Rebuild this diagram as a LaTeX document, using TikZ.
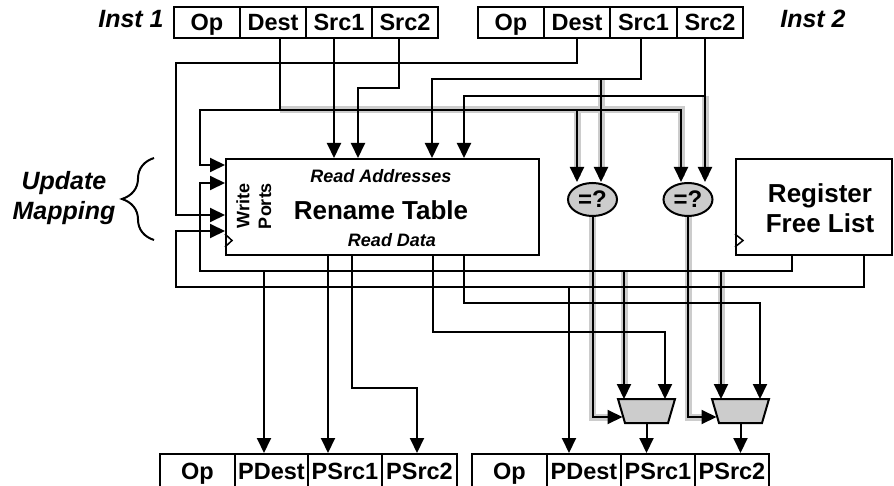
\documentclass[tikz,border=0pt]{standalone}
\usepackage{fontspec}
\setmainfont{Liberation Sans}
\usetikzlibrary{arrows.meta,shapes.geometric,decorations.pathreplacing}
\begin{document}
\begin{tikzpicture}[x=1pt,y=-1pt,
  w/.style={line width=2pt},
  arr/.style={-{Triangle[length=15pt 0 0,width=14pt 0 0]}},
  hl/.style={line width=7pt,draw=gray!40},
  cell/.style={draw,line width=2pt,fill=white,minimum height=31pt,minimum width=66pt,inner sep=0pt,text height=17pt,text depth=0pt,font=\bfseries\fontsize{23.5}{23.5}\selectfont},
  ocell/.style={cell,minimum height=34pt},
  blk/.style={draw,line width=2pt,fill=white,inner sep=0pt},
  cmp/.style={ellipse,draw,line width=2pt,fill=gray!40,minimum width=49pt,minimum height=33pt,inner sep=0pt,font=\bfseries\fontsize{24}{24}\selectfont},
  muxshape/.style={draw,line width=2pt,fill=gray!40,line join=miter},
  lab/.style={font=\bfseries\itshape\fontsize{25}{30}\selectfont,align=center},
  small/.style={font=\bfseries\itshape\fontsize{18}{18}\selectfont},
  big/.style={font=\bfseries\fontsize{26}{30}\selectfont,align=center}]
\useasboundingbox (0,0) rectangle (894,486);

% instruction fields
\node[cell] (i1op) at (207,22.5) {Op};
\node[cell] (i1d)  at (273,22.5) {Dest};
\node[cell] (i1s1) at (339,22.5) {Src1};
\node[cell] (i1s2) at (405,22.5) {Src2};
\node[cell] (i2op) at (511,22.5) {Op};
\node[cell] (i2d)  at (577,22.5) {Dest};
\node[cell,minimum width=67pt] (i2s1) at (643.5,22.5) {Src1};
\node[cell] (i2s2) at (710,22.5) {Src2};
\node[lab] (inst1) at (131,19) {Inst 1};
\node[lab] (inst2) at (813,19) {Inst 2};

% output fields
\node[ocell,minimum width=75pt] (o1op)  at (197.5,471) {Op};
\node[ocell,minimum width=73pt] (o1pd)  at (271.5,471) {PDest};
\node[ocell,minimum width=74pt] (o1ps1) at (345,471) {PSrc1};
\node[ocell,minimum width=75pt] (o1ps2) at (419.5,471) {PSrc2};
\node[ocell,minimum width=75pt] (o2op)  at (509.5,471) {Op};
\node[ocell,minimum width=74pt] (o2pd)  at (584,471) {PDest};
\node[ocell,minimum width=74pt] (o2ps1) at (658,471) {PSrc1};
\node[ocell,minimum width=74pt] (o2ps2) at (732,471) {PSrc2};

% blocks
\node[blk,minimum width=313pt,minimum height=96pt] (rt) at (382.5,207) {};
\node[blk,minimum width=156pt,minimum height=96pt] (fl) at (814,207) {};
\node[cmp] (c1) at (592.5,199.5) {=?};
\node[cmp] (c2) at (688,199.5) {=?};

% muxes (trapezoids) with named anchor points
\coordinate (m1n) at (646.5,399);
\coordinate (m1s) at (646.5,423);
\coordinate (m1w) at (622.5,417);
\coordinate (m2n) at (740.5,399);
\coordinate (m2s) at (740.5,423);
\coordinate (m2w) at (716.5,417);

% highlight shadows
\draw[hl] (280,110) -| (681,176);
\draw[hl] (577,110) -- (577,176);
\draw[hl] (601,79) -- (601,176);
\draw[hl] (705,96) -- (705,176);
\draw[hl] (c1.south) |- (614,417);
\draw[hl] (c2.south) |- (708,417);
\draw[hl] (624,271) -- (624,392);
\draw[hl] (721,271) -- (721,392);

% connectors from inst 1
\draw[w,arr] (i1d.south -| 280,0) |- (200,110) |- (rt.west |- 0,165);
\draw[w,arr] (280,110) -| (c2.north -| 681,0);
\draw[w,arr] (577,110) -- (c1.north -| 577,0);
\draw[w,arr] (i1s1.south -| 334,0) -- (rt.north -| 334,0);
\draw[w,arr] (i1s2.south -| 399,0) |- (358,88) -- (rt.north -| 358,0);
% connectors from inst 2
\draw[w,arr] (i2d.south) |- (176,63) |- (rt.west |- 0,215);
\draw[w,arr] (i2s1.south -| 641,0) |- (432,79) -- (rt.north -| 432,0);
\draw[w,arr] (601,79) -- (c1.north -| 601,0);
\draw[w,arr] (i2s2.south -| 705,0) |- (464,96) -- (rt.north -| 464,0);
\draw[w,arr] (705,96) -- (c2.north -| 705,0);
% comparators to muxes
\draw[w,arr] (c1.south) |- (m1w);
\draw[w,arr] (c2.south) |- (m2w);
% free list outputs
\draw[w,arr] (fl.south -| 792,0) |- (200,271) |- (rt.west |- 0,183);
\draw[w,arr] (264,271) -- (o1pd.north -| 264,0);
\draw[w,arr] (624,271) -- (m1n -| 624,0);
\draw[w,arr] (721,271) -- (m2n -| 721,0);
\draw[w,arr] (fl.south -| 864,0) |- (176,287) |- (rt.west |- 0,231);
\draw[w,arr] (569,287) -- (o2pd.north -| 569,0);
% rename table read data
\draw[w,arr] (rt.south -| 328,0) -- (o1ps1.north -| 328,0);
\draw[w,arr] (rt.south -| 352,0) |- (417,388) -- (o1ps2.north -| 417,0);
\draw[w,arr] (rt.south -| 433,0) |- (665,332) -- (m1n -| 665,0);
\draw[w,arr] (rt.south -| 464,0) |- (760,303) -- (m2n -| 760,0);
% mux bodies
\draw[muxshape] (618,399) -- (675,399) -- (668,423) -- (625,423) -- cycle;
\draw[muxshape] (712,399) -- (769,399) -- (762,423) -- (719,423) -- cycle;
% mux outputs
\draw[w,arr] (m1s) -- (m1s |- o2ps1.north);
\draw[w,arr] (m2s) -- (m2s |- o2ps2.north);

% clock marks
\draw[line width=1.5pt] (rt.west |- 0,234) -- ++(7,6.5) -- ++(-7,6.5);
\draw[line width=1.5pt] (fl.west |- 0,234) -- ++(8,6.5) -- ++(-8,6.5);

% texts in blocks
\node[small] (ra) at (381,176) {Read Addresses};
\node[big] (rtn) at (381,210) {Rename Table};
\node[small] (rd) at (392,240) {Read Data};
\node[rotate=90,font=\bfseries\fontsize{18}{18}\selectfont] (wr) at (243,206) {Write};
\node[rotate=90,font=\bfseries\fontsize{18}{18}\selectfont] (po) at (265,206) {Ports};
\node[big] (flt) at (820,208) {Register\\Free List};

% update mapping brace
\draw[w,decorate,decoration={brace,amplitude=32pt}] (154,240) -- (154,158);
\node[lab] (um) at (64,198) {Update\\Mapping};
\end{tikzpicture}
\end{document}
